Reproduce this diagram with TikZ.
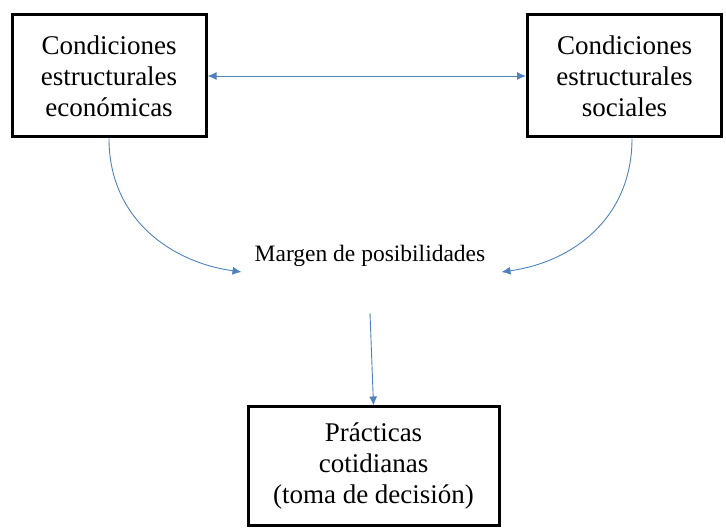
\documentclass[tikz,border=0pt]{standalone}
\usepackage{fontspec}
\setmainfont{Liberation Serif}
\usetikzlibrary{arrows.meta}
\usetikzlibrary{positioning}
\definecolor{linkblue}{RGB}{79,129,189}
\tikzset{
    condbox/.style = {draw,line width=3pt,align=center,inner sep=0pt,
        minimum width=194pt,minimum height=122pt,font=\fontsize{27}{31}\selectfont},
    link/.style = {draw=linkblue,line width=0.9pt,-{Latex[length=9pt,width=8pt]}},
    linkboth/.style = {link,{Latex[length=9pt,width=8pt]}-{Latex[length=9pt,width=8pt]}},
    margin/.style = {font=\fontsize{23.5}{27}\selectfont,inner sep=0pt}
}
\begin{document}
\begin{tikzpicture}[x=1pt,y=-1pt]
        \useasboundingbox (0,0) rectangle (726,529);
        % Conditions
        \path (109,76) node[condbox] (econ) {Condiciones\\estructurales\\económicas}
            (624.5,76) node[condbox] (soc) {Condiciones\\estructurales\\sociales}
        ;
        % Margin of possibilities
        \node[margin] (margen) at (370,256) {Margen de posibilidades};
        \path (margen.west) ++(-13,16) coordinate (mleft)
            (margen.east) ++(16,16) coordinate (mright)
            (370,313) coordinate (mtop)
        ;
        % Practices
        \node[condbox,minimum width=251pt,minimum height=118pt] (prac) at (373.5,466)
            {Prácticas\\cotidianas\\(toma de decisión)};
        % Links
        \draw[linkboth] (econ) -- (soc);
        \draw[link] (econ.south) .. controls (109,218) and (170,262) .. (mleft);
        \draw[link] ([xshift=7.5pt]soc.south) .. controls (632,218) and (573,262) .. (mright);
        \draw[link] (mtop) -- (prac.north);
    \end{tikzpicture}
\end{document}
